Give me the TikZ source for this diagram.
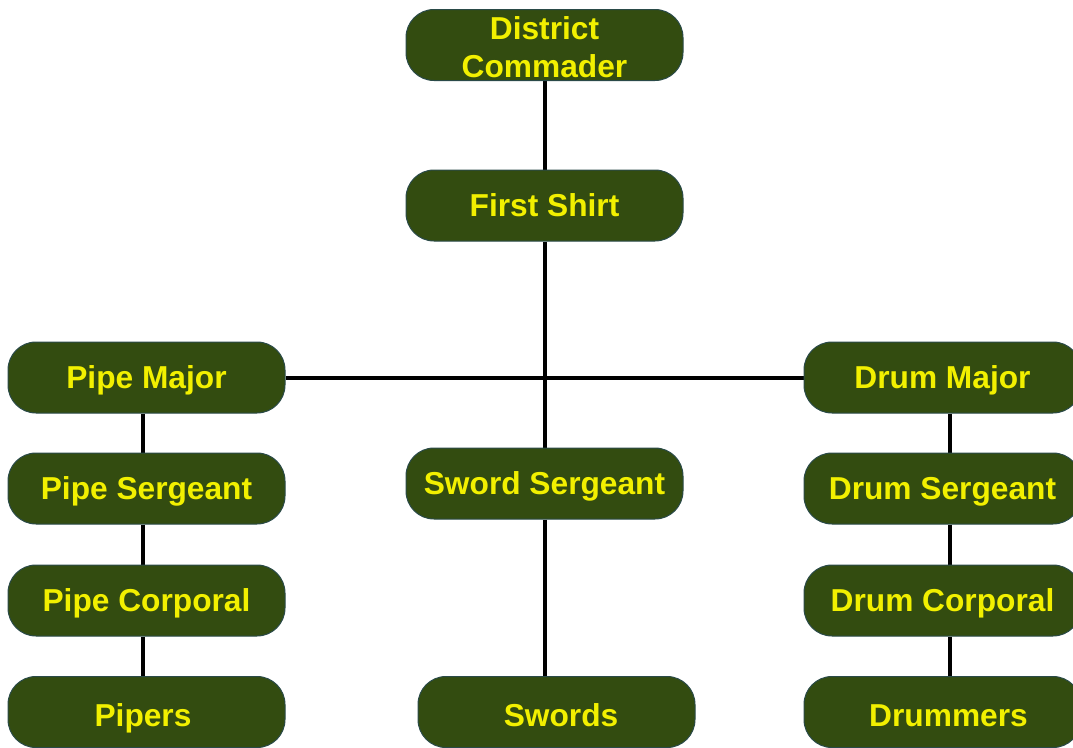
\documentclass[tikz,border=0pt]{standalone}
\usepackage{fontspec}
\setmainfont{Liberation Sans}
\usetikzlibrary{backgrounds}
\definecolor{boxfill}{HTML}{334C10}
\definecolor{boxedge}{HTML}{2A4A48}
\definecolor{txt}{HTML}{F2F000}
\begin{document}
\begin{tikzpicture}[x=1pt,y=1pt,
  rank/.style={draw=boxedge, line width=1pt, fill=boxfill, rounded corners=28pt,
    minimum width=277pt, minimum height=71pt, inner sep=0pt, align=center,
    text=txt, font=\fontsize{31.7}{38}\selectfont\bfseries,
    text height=22pt, text depth=1pt},
  lowrank/.style={rank, text height=29pt},
  link/.style={line width=4pt, black}]
\useasboundingbox (0,0) rectangle (1073,-747);
\node[rank, text height=0pt, text depth=0pt] (DC) at (544.5,-45) {\raisebox{-12pt}[0pt][0pt]{\begin{tabular}{@{}c@{}}District\\Commader\end{tabular}}};
\node[rank] (FS) at (544.5,-205.5) {First Shirt};
\node[rank] (PM) at (146.5,-377.5) {Pipe Major};
\node[rank] (PS) at (146.5,-488.5) {Pipe Sergeant};
\node[rank] (PC) at (146.5,-600.5) {Pipe Corporal};
\node[lowrank] (PI) at (146.5,-712) {\hspace*{-7pt}Pipers};
\node[rank] (SS) at (544.5,-483.5) {Sword Sergeant};
\node[lowrank] (SW) at (556.5,-712) {\hspace*{9pt}Swords};
\node[rank] (DM) at (942.5,-377.5) {Drum Major};
\node[rank] (DS) at (942.5,-488.5) {Drum Sergeant};
\node[rank] (DCo) at (942.5,-600.5) {Drum Corporal};
\node[lowrank] (DR) at (942.5,-712) {\hspace*{12pt}Drummers};
\begin{scope}[on background layer]
\draw[link] (DC.south) -- (FS.north);
\draw[link] (FS.south) -- (SS.north);
\draw[link] (PM.east) -- (DM.west);
\draw[link] (SS.south) -- (SS.south |- SW.north);
\draw[link] ([xshift=-3.5pt]PM.south) -- ([xshift=-3.5pt]PS.north);
\draw[link] ([xshift=-3.5pt]PS.south) -- ([xshift=-3.5pt]PC.north);
\draw[link] ([xshift=-3.5pt]PC.south) -- ([xshift=-3.5pt]PI.north);
\draw[link] ([xshift=7.5pt]DM.south) -- ([xshift=7.5pt]DS.north);
\draw[link] ([xshift=7.5pt]DS.south) -- ([xshift=7.5pt]DCo.north);
\draw[link] ([xshift=7.5pt]DCo.south) -- ([xshift=7.5pt]DR.north);
\end{scope}
\end{tikzpicture}
\end{document}
